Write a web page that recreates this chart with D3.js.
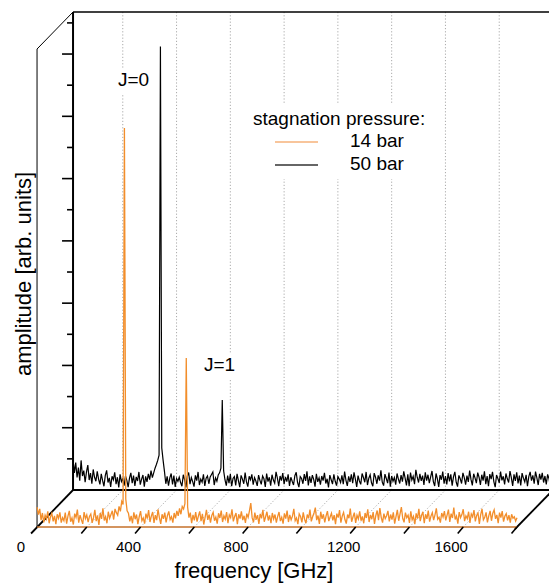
<!DOCTYPE html>
<html>
<head>
<meta charset="utf-8">
<script src="https://cdn.jsdelivr.net/npm/d3@7"></script>
<style>
  body { margin: 0; background: #fff; }
  svg { font-family: "Liberation Sans", Arial, sans-serif; }
</style>
</head>
<body>
<svg id="chart" width="549" height="585"></svg>
<script>
// spectra sampled every 5 GHz starting at 15 GHz (amplitude in arb. units)
const fStart = 15, fStep = 5;

// 14 bar (front trace)
const amp14 = [
  64,40,58,22,45,15,38,26,50,12,33,44,18,36,9,41,28,47,14,30,
  20,46,11,35,52,17,29,8,43,31,56,14,38,23,10,48,27,39,16,34,
  42,13,30,55,19,37,7,45,26,60,21,33,12,49,28,40,52,24,58,46,
  38,66,50,82,72,1281,90,52,44,18,36,12,47,25,40,9,33,51,20,29,
  11,43,27,54,16,35,48,13,38,22,57,30,10,41,26,46,15,37,50,24,
  33,14,45,28,52,36,60,41,66,58,75,543,64,30,46,12,39,21,48,17,
  35,50,19,42,8,31,55,23,40,14,37,47,20,32,11,44,29,53,16,36,
  25,48,12,39,30,57,18,34,45,9,41,27,50,22,36,13,43,31,52,77,
  30,15,46,24,38,10,42,28,55,17,33,49,21,37,12,45,26,40,14,34,
  48,19,31,11,44,27,53,16,39,23,35,58,20,29,9,42,34,15,47,25,
  12,40,28,56,18,33,45,62,22,37,10,49,26,41,15,36,51,19,32,44,
  21,38,9,43,30,54,14,35,47,24,11,40,28,59,17,32,46,13,38,26,
  50,20,34,12,45,29,57,16,39,25,48,10,37,53,22,61,31,14,43,27,
  36,52,18,40,24,47,11,33,55,20,42,64,28,15,46,30,38,13,50,23,
  34,9,44,27,58,19,37,49,12,41,26,53,17,35,46,22,39,60,25,31,
  14,45,32,51,21,38,56,16,43,29,62,24,35,11,48,30,40,57,19,36,
  27,49,13,42,33,54,18,37,45,10,40,58,23,31,47,15,36,52,20,44,
  55,26,39,12,46,30,51,17,35,43,21,38,14,41,28,33,19,30
];

// 50 bar (back trace)
const amp50 = [
  98,55,88,40,72,30,95,45,62,25,58,80,32,54,20,66,41,28,60,35,
  18,52,30,12,47,63,24,39,10,44,33,57,19,41,8,50,27,36,14,45,
  31,9,38,55,22,46,13,42,29,58,17,35,48,11,44,26,52,33,62,40,
  55,70,82,95,112,1424,135,95,60,20,44,14,39,53,18,46,10,37,28,41,
  24,12,49,33,8,45,56,19,40,27,11,47,30,58,16,35,25,50,13,38,
  45,20,42,50,58,16,39,28,48,55,70,289,62,33,14,46,22,51,12,37,
  43,15,52,30,9,47,35,20,56,26,11,44,33,50,17,40,29,13,48,31,
  18,45,36,10,53,27,41,14,49,32,22,58,38,12,45,30,54,19,42,27,
  50,13,41,28,16,46,57,24,9,43,37,20,51,29,60,15,44,23,48,34,
  11,52,26,39,17,45,30,55,21,36,8,48,33,19,50,28,14,43,35,24,
  47,19,59,31,13,44,26,50,22,57,35,10,46,29,18,53,40,25,58,16,
  38,49,23,12,54,41,20,47,30,63,25,14,51,37,22,56,11,45,28,40,
  17,53,35,21,48,27,60,38,15,50,12,56,32,44,19,65,41,24,52,29,
  46,16,57,30,49,22,42,61,27,13,53,36,10,48,33,59,20,45,18,54,
  28,50,14,43,58,25,11,47,36,21,55,40,17,46,26,62,34,15,52,39,
  22,56,41,16,49,30,60,19,45,12,51,35,58,27,9,48,37,23,59,31,
  44,18,53,36,24,61,40,13,50,29,57,21,46,15,54,38,26,49,12,43,
  58,30,47,20,59,39,16,52,33,55,24,45,18,50,37,11,48,29
];

const freqTicks = [200, 400, 600, 800, 1000, 1200, 1400, 1600, 1800];
const freqLabels = [0, 400, 800, 1200, 1600];
const ampTicks = [100, 200, 300, 400, 500, 600, 700, 800, 900, 1000, 1100, 1200, 1300, 1400, 1500];
const seriesNames = ['14 bar', '50 bar'];
const seriesColors = ['#f28e2b', '#000000'];
const peakLabels = ['J=0', 'J=1'];

// layout: front plane and back plane shifted by the depth offset
const svg = d3.select('#chart');
const depthX = 36, depthY = -37;
const frontBase = 527, backBase = frontBase + depthY;
const fMin = 15, fMax = 1800;

const x = d3.scaleLinear().domain([0, 1800]).range([33, 517]);
const yFront = d3.scaleLinear().domain([0, 1535]).range([frontBase, frontBase - 478]);
const yBack = d3.scaleLinear().domain([0, 1535]).range([backBase, backBase - 478]);

const toPoints = arr => arr.map((a, i) => ({ f: fStart + i * fStep, a: a }));
const data14 = toPoints(amp14);
const data50 = toPoints(amp50);

const xL = x(fMin), xR = x(fMax);

// dotted grid on back wall and floor
const grid = svg.append('g')
  .attr('stroke', '#aaa')
  .attr('stroke-width', 1)
  .attr('stroke-dasharray', '1.2,2');

grid.selectAll('line.v')
  .data(freqTicks)
  .enter().append('line')
  .attr('class', 'v')
  .attr('x1', d => x(d) + depthX).attr('x2', d => x(d) + depthX)
  .attr('y1', backBase).attr('y2', yBack.range()[1]);

grid.selectAll('line.d')
  .data(freqTicks.filter(d => d < 1800))
  .enter().append('line')
  .attr('class', 'd')
  .attr('x1', d => x(d)).attr('y1', frontBase)
  .attr('x2', d => x(d) + depthX).attr('y2', backBase);

// back trace
svg.append('path')
  .datum(data50)
  .attr('fill', 'none')
  .attr('stroke', seriesColors[1])
  .attr('stroke-width', 1.2)
  .attr('d', d3.line().x(d => x(d.f) + depthX).y(d => yBack(d.a)));

// back axes
const axes = svg.append('g').attr('stroke', '#000').attr('fill', 'none');
axes.append('line')
  .attr('x1', xL + depthX).attr('x2', xL + depthX)
  .attr('y1', backBase).attr('y2', yBack.range()[1])
  .attr('stroke-width', 2);
axes.append('line')
  .attr('x1', xL + depthX).attr('x2', xR + depthX)
  .attr('y1', yBack.range()[1]).attr('y2', yBack.range()[1])
  .attr('stroke-width', 1.5);
axes.append('line')
  .attr('x1', xL + depthX).attr('x2', xR + depthX)
  .attr('y1', backBase).attr('y2', backBase)
  .attr('stroke-width', 2);

axes.selectAll('line.ytick')
  .data(ampTicks)
  .enter().append('line')
  .attr('class', 'ytick')
  .attr('x1', d => xL + depthX - (d % 200 === 0 ? 11 : 6))
  .attr('x2', xL + depthX)
  .attr('y1', d => yBack(d)).attr('y2', d => yBack(d))
  .attr('stroke-width', 1.6);

// floor edges
axes.append('line')
  .attr('x1', xL - 6).attr('y1', frontBase + 6.5)
  .attr('x2', xL + depthX).attr('y2', backBase)
  .attr('stroke-width', 1.8);
axes.append('line')
  .attr('x1', xR - 2).attr('y1', frontBase + 2)
  .attr('x2', xR + depthX).attr('y2', backBase)
  .attr('stroke-width', 1.8);

// front frame
axes.append('line')
  .attr('x1', xL).attr('x2', xL)
  .attr('y1', frontBase).attr('y2', yFront.range()[1])
  .attr('stroke-width', 1);
axes.append('line')
  .attr('x1', xL).attr('y1', yFront.range()[1])
  .attr('x2', xL + depthX).attr('y2', yBack.range()[1])
  .attr('stroke-width', 1);

// front trace
svg.append('line')
  .attr('x1', xL).attr('x2', xR)
  .attr('y1', frontBase).attr('y2', frontBase)
  .attr('stroke', '#c4702a')
  .attr('stroke-width', 1.6);

svg.append('path')
  .datum(data14)
  .attr('fill', 'none')
  .attr('stroke', seriesColors[0])
  .attr('stroke-width', 1.3)
  .attr('d', d3.line().x(d => x(d.f)).y(d => yFront(d.a)));

// front x ticks (pointing out along the depth direction)
svg.append('g').selectAll('line')
  .data(freqTicks)
  .enter().append('line')
  .attr('x1', d => x(d)).attr('y1', frontBase)
  .attr('x2', d => x(d) - 5.5).attr('y2', frontBase + 6.5)
  .attr('stroke', '#000')
  .attr('stroke-width', 1.6);

svg.append('g').selectAll('text')
  .data(freqLabels)
  .enter().append('text')
  .attr('x', d => x(d) - 12)
  .attr('y', 552)
  .attr('text-anchor', 'middle')
  .attr('font-size', 15)
  .text(d => d);

// axis titles
svg.append('text')
  .attr('x', 254).attr('y', 578)
  .attr('text-anchor', 'middle')
  .attr('font-size', 22)
  .text('frequency [GHz]');

svg.append('text')
  .attr('transform', 'translate(31,274) rotate(-90)')
  .attr('text-anchor', 'middle')
  .attr('font-size', 22)
  .text('amplitude [arb. units]');

// peak labels with white backing
const labelPos = [[118, 86], [204, 371]];
peakLabels.forEach((t, i) => {
  const g = svg.append('g');
  g.append('rect')
    .attr('x', labelPos[i][0] - 4).attr('y', labelPos[i][1] - 18)
    .attr('width', 40).attr('height', 27)
    .attr('fill', '#fff');
  g.append('text')
    .attr('x', labelPos[i][0]).attr('y', labelPos[i][1])
    .attr('font-size', 19)
    .text(t);
});

// legend
const legend = svg.append('g');
legend.append('rect')
  .attr('x', 246).attr('y', 103)
  .attr('width', 186).attr('height', 76)
  .attr('fill', '#fff');
legend.append('text')
  .attr('x', 253).attr('y', 125)
  .attr('font-size', 19)
  .text('stagnation pressure:');
seriesNames.forEach((name, i) => {
  const yy = 142 + i * 23;
  legend.append('line')
    .attr('x1', 275).attr('x2', 318)
    .attr('y1', yy).attr('y2', yy)
    .attr('stroke', i === 0 ? '#f6b27a' : '#333')
    .attr('stroke-width', 1.3);
  legend.append('text')
    .attr('x', 350).attr('y', 147 + i * 23)
    .attr('font-size', 19)
    .text(name);
});
</script>
</body>
</html>
